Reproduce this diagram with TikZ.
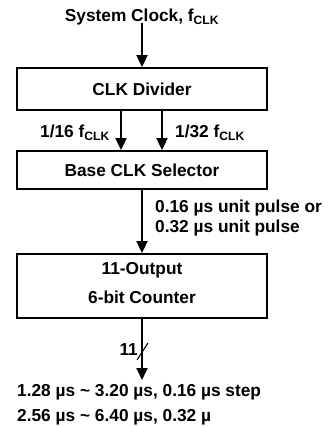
\documentclass[tikz,border=0pt]{standalone}
\usepackage{fontspec}
\setmainfont{Liberation Sans}
\usetikzlibrary{arrows.meta}
\begin{document}
\begin{tikzpicture}[x=1pt,y=-1pt,
  font=\bfseries\fontsize{17.3}{20}\selectfont,
  block/.style={draw,line width=1.8pt,minimum width=250pt,inner sep=0pt},
  flow/.style={line width=1.8pt,-{Triangle[length=12pt,width=11pt]}},
  lbl/.style={inner sep=0pt}]
\useasboundingbox (0,0) rectangle (327,426);
% blocks
\node[block,minimum height=42pt] (div) at (142,89) {CLK Divider};
\node[block,minimum height=38pt] (sel) at (142,170) {Base CLK Selector};
\node[block,minimum height=64pt] (cnt) at (142,286) {};
\node[lbl,align=center] (cnttxt) at (142,283) {11-Output\\[9pt]6-bit Counter};
% input
\node[lbl] (clk) at (142,17) {System Clock, f\textsubscript{CLK}};
\draw[flow] (clk.south) ++(0,-2) -- (div.north);
% divider outputs
\coordinate (d16) at ([xshift=-21pt]div.south);
\coordinate (d32) at ([xshift=20pt]div.south);
\draw[flow] (d16) -- (d16 |- sel.north);
\draw[flow] (d32) -- (d32 |- sel.north);
\node[lbl,anchor=east] (l16) at (110,133) {1/16 f\textsubscript{CLK}};
\node[lbl,anchor=west] (l32) at (175,133) {1/32 f\textsubscript{CLK}};
% selector output
\draw[flow] (sel.south) -- (cnt.north);
\node[lbl,anchor=west,align=left] (pulse) at (155,218)
  {0.16 µs unit pulse or\\0.32 µs unit pulse};
% counter output bus
\coordinate (bus) at (142,380);
\draw[flow] (cnt.south) -- (bus);
\coordinate (s1) at (137,360);
\coordinate (s2) at (148,343);
\draw[line width=1.1pt] (s1) -- (s2);
\node[lbl,anchor=east] (w) at (138,350) {11};
\node[lbl,anchor=north west,align=left] (range) at (17,384)
  {1.28 µs \char`\~{} 3.20 µs, 0.16 µs step\\[5pt]2.56 µs \char`\~{} 6.40 µs, 0.32 µ};
\end{tikzpicture}
\end{document}
